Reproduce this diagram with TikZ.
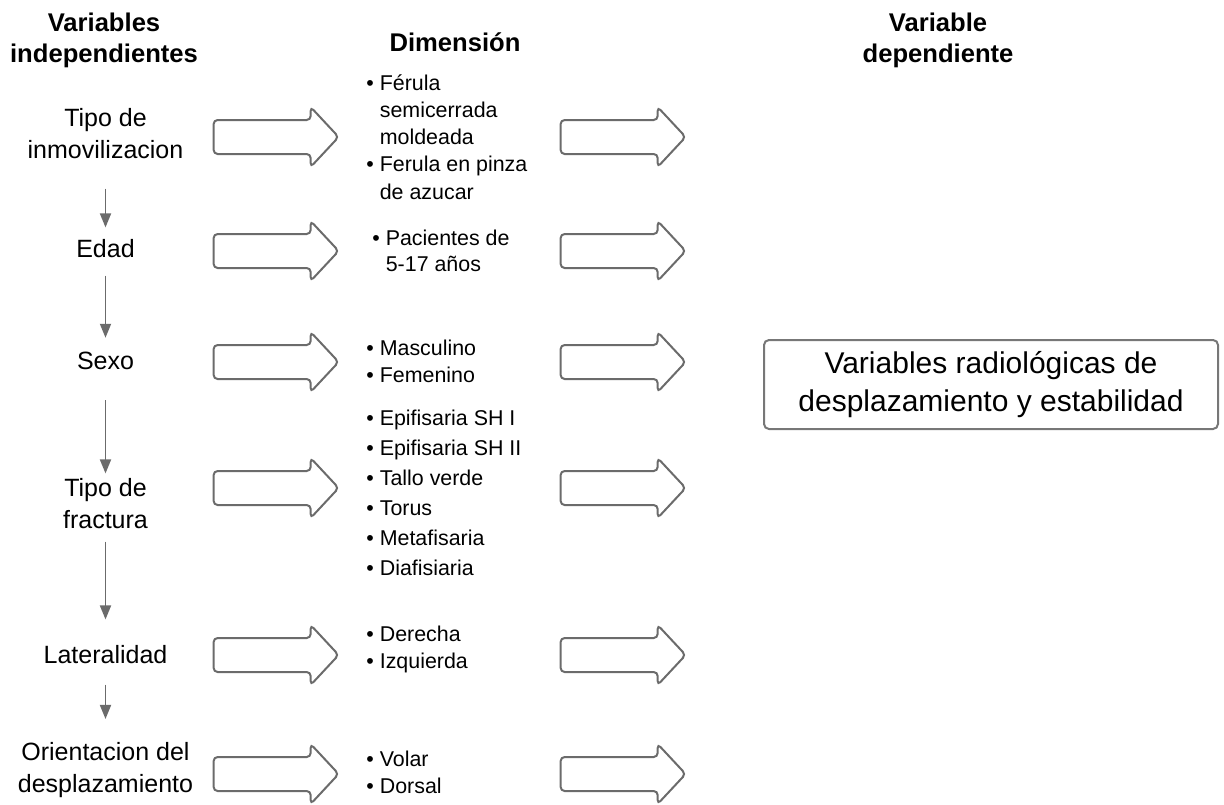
\documentclass[tikz,border=0pt]{standalone}
\usepackage{fontspec}
\setmainfont{Liberation Sans}
\usetikzlibrary{shapes.arrows, arrows.meta}

\definecolor{arrowgray}{HTML}{6B6B6B}
\definecolor{boxgray}{HTML}{777777}

\newcommand{\bul}{\textbullet\ }
\newcommand{\bulgap}{\hphantom{\textbullet\ }}

\begin{document}
\begin{tikzpicture}[x=0.5pt, y=-0.5pt,
  header/.style={font=\bfseries\fontsize{12.8}{15.5}\selectfont, align=center, inner sep=0},
  varname/.style={font=\fontsize{12.5}{16}\selectfont, align=center, inner sep=0},
  dimlist/.style={font=\fontsize{10.7}{13.5}\selectfont, align=left, anchor=west, inner sep=0},
  bigarrow/.style={draw=arrowgray, line width=1pt, single arrow, single arrow head extend=6.5pt,
    single arrow tip angle=94, minimum height=62.5pt, inner xsep=0pt, inner ysep=8pt,
    rounded corners=2pt, anchor=tip},
  nextvar/.style={draw=arrowgray, line width=0.9pt, -{Triangle[width=5.5pt, length=7pt]}}
]
\useasboundingbox (0,0) rectangle (1224,804);

% titles
\node[header] (hindep) at (104, 40) {Variables\\independientes};
\node[header] (hdim) at (455, 42) {Dimensión};
\node[header] (hdep) at (938, 40) {Variable\\dependiente};

% independent variables
\node[varname] (tipoinm) at (105.5, 134) {Tipo de\\inmovilizacion};
\node[varname] (edad) at (105.5, 249) {Edad};
\node[varname] (sexo) at (105.5, 361) {Sexo};
\node[varname] (tipofrac) at (105.5, 504) {Tipo de\\fractura};
\node[varname] (lateral) at (105.5, 655) {Lateralidad};
\node[varname] (orient) at (105.5, 770) {Orientacion del\\desplazamiento};

\draw[nextvar, shorten <=14.5pt, shorten >=6pt] (tipoinm) -- (edad);
\draw[nextvar, shorten <=8.5pt, shorten >=7pt] (edad) -- (sexo);
\draw[nextvar, shorten <=15pt, shorten >=2.5pt] (sexo) -- (tipofrac);
\draw[nextvar, shorten <=6pt, shorten >=13pt] (tipofrac) -- (lateral);
\draw[nextvar, shorten <=10pt, shorten >=11.5pt] (lateral) -- (orient);

% arrows to the dimensions
\node[bigarrow] (arrL1) at (340, 137) {};
\node[bigarrow] (arrL2) at (340, 251) {};
\node[bigarrow] (arrL3) at (340, 362) {};
\node[bigarrow] (arrL4) at (340, 488) {};
\node[bigarrow] (arrL5) at (340, 655) {};
\node[bigarrow] (arrL6) at (340, 774) {};

% dimensions
\node[dimlist, font=\fontsize{10.7}{13.6}\selectfont] (dimA) at (366, 137)
  {\bul Férula\\\bulgap semicerrada\\\bulgap moldeada\\\bul Ferula en pinza\\\bulgap de azucar};
\node[dimlist, font=\fontsize{10.7}{13}\selectfont] (dimB) at (372, 251)
  {\bul Pacientes de\\\bulgap 5-17 años};
\node[dimlist] (dimC) at (366, 361.5) {\bul Masculino\\\bul Femenino};
\node[dimlist, font=\fontsize{10.7}{15}\selectfont] (dimD) at (366, 492.8)
  {\bul Epifisaria SH I\\\bul Epifisaria SH II\\\bul Tallo verde\\\bul Torus\\\bul Metafisaria\\\bul Diafisiaria};
\node[dimlist] (dimE) at (366, 649.7) {\bul Derecha\\\bul Izquierda};
\node[dimlist] (dimF) at (366, 772.5) {\bul Volar\\\bul Dorsal};

% arrows to the dependent variable
\node[bigarrow] (arrR1) at (687, 137) {};
\node[bigarrow] (arrR2) at (687, 251) {};
\node[bigarrow] (arrR3) at (687, 362) {};
\node[bigarrow] (arrR4) at (687, 488) {};
\node[bigarrow] (arrR5) at (687, 655) {};
\node[bigarrow] (arrR6) at (687, 774) {};

\node[draw=boxgray, line width=1pt, rounded corners=2.5pt, minimum width=227pt, minimum height=44.5pt,
  align=center, font=\fontsize{15}{19}\selectfont] (radiol) at (991, 384.5)
  {Variables radiológicas de\\desplazamiento y estabilidad};

\end{tikzpicture}
\end{document}
